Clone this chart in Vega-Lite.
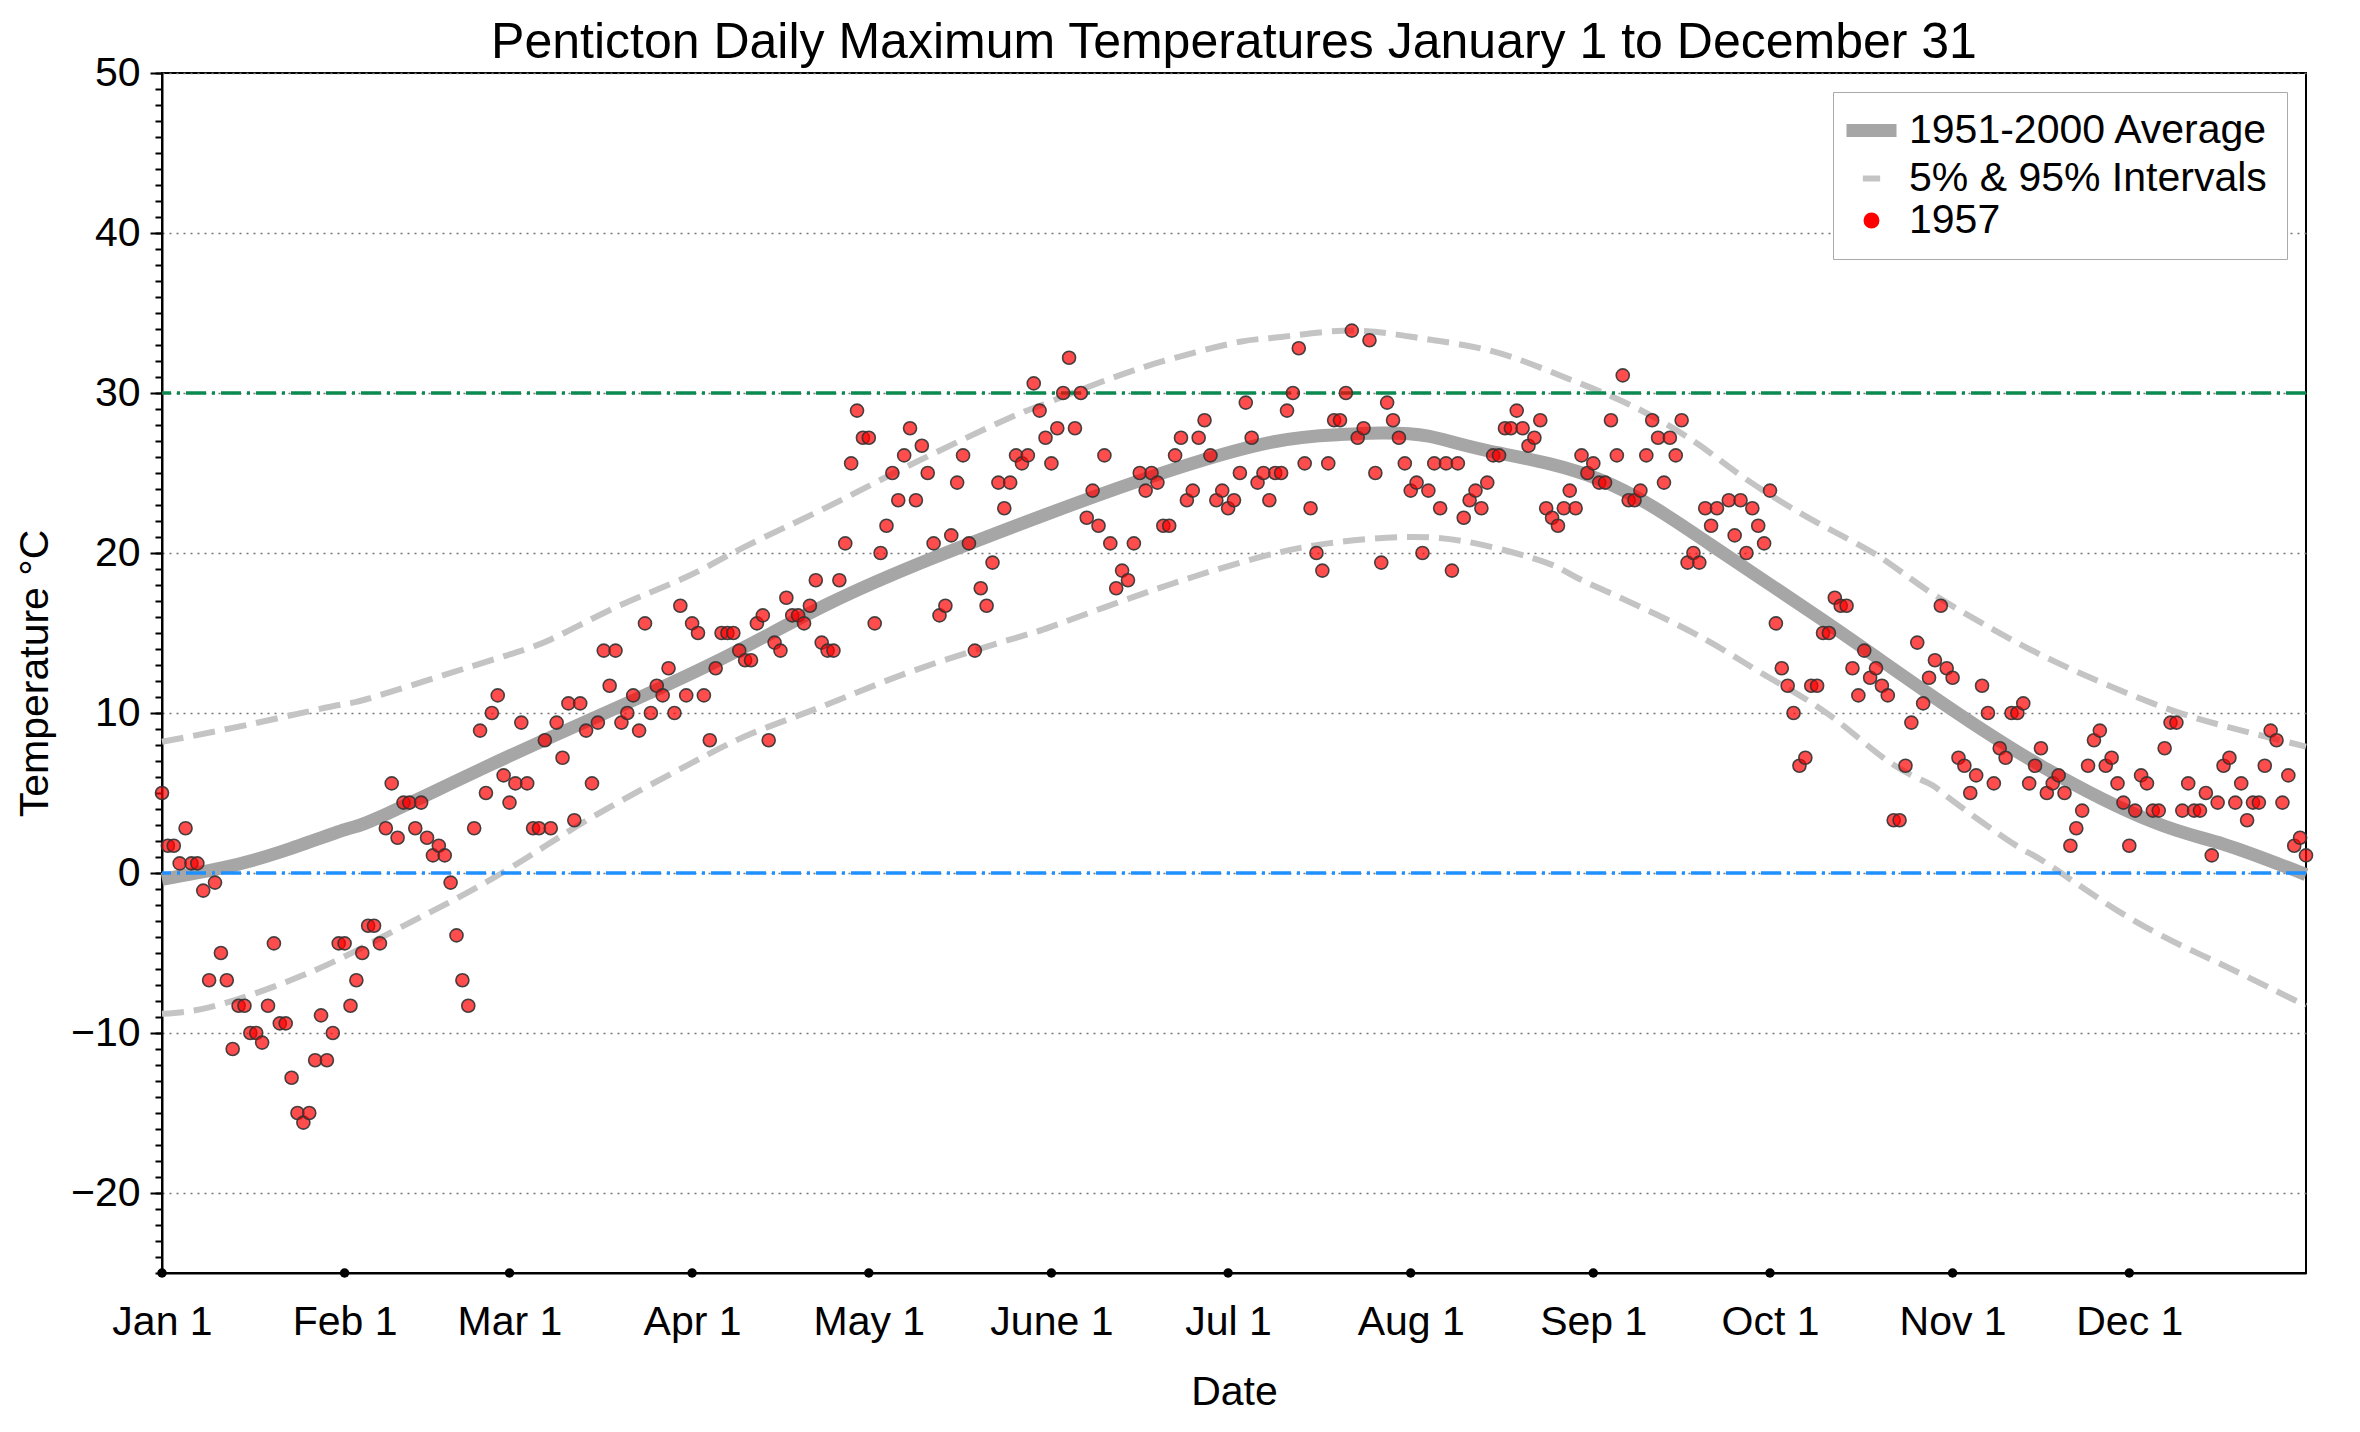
{
  "$schema": "https://vega.github.io/schema/vega-lite/v6.json",
  "width": 2144,
  "height": 1200,
  "autosize": {"type": "none"},
  "padding": {"left": 162, "top": 73, "right": 54, "bottom": 159},
  "background": "white",
  "title": {"text": "Penticton Daily Maximum Temperatures January 1 to December 31", "fontSize": 50, "fontWeight": "normal", "font": "Liberation Sans", "color": "black", "offset": -16, "anchor": "middle"},
  "config": {
    "view": {"stroke": "black", "strokeWidth": 2},
    "font": "Liberation Sans",
    "axis": {"labelFont": "Liberation Sans", "titleFont": "Liberation Sans", "labelColor": "black", "titleColor": "black", "labelFontSize": 41, "titleFontSize": 41, "titleFontWeight": "normal", "domainColor": "black", "domainWidth": 2, "tickColor": "black", "tickWidth": 2}
  },
  "resolve": {"scale": {"y": "shared", "x": "shared"}, "axis": {"y": "independent"}},
  "datasets": {
    "average": [
      {"day":0,"temp":-0.4},{"day":10,"temp":0.3},{"day":20,"temp":1.3},{"day":31,"temp":2.7},{"day":37,"temp":3.5},{"day":56,"temp":6.8},{"day":74,"temp":9.8},{"day":94,"temp":13.2},{"day":113,"temp":16.8},{"day":131,"temp":19.7},{"day":150,"temp":22.4},{"day":169,"temp":24.9},{"day":188,"temp":26.9},{"day":200,"temp":27.4},{"day":207,"temp":27.5},{"day":215,"temp":27.3},{"day":225,"temp":26.4},{"day":244,"temp":24.6},{"day":263,"temp":20.5},{"day":282,"temp":15.8},{"day":300,"temp":11.2},{"day":319,"temp":6.7},{"day":338,"temp":3.2},{"day":350,"temp":1.8},{"day":364,"temp":-0.1}
    ],
    "bands": [
      {"bound":"upper","day":0,"temp":8.2},{"bound":"upper","day":15,"temp":9.3},{"bound":"upper","day":30,"temp":10.5},{"bound":"upper","day":36,"temp":11.0},{"bound":"upper","day":55,"temp":13.2},{"bound":"upper","day":66,"temp":14.6},{"bound":"upper","day":77,"temp":16.6},{"bound":"upper","day":89,"temp":18.5},{"bound":"upper","day":99,"temp":20.4},{"bound":"upper","day":112,"temp":22.7},{"bound":"upper","day":127,"temp":25.5},{"bound":"upper","day":143,"temp":28.3},{"bound":"upper","day":149,"temp":29.2},{"bound":"upper","day":161,"temp":30.9},{"bound":"upper","day":172,"temp":32.2},{"bound":"upper","day":183,"temp":33.2},{"bound":"upper","day":190,"temp":33.5},{"bound":"upper","day":202,"temp":33.9},{"bound":"upper","day":214,"temp":33.4},{"bound":"upper","day":226,"temp":32.6},{"bound":"upper","day":238,"temp":31.0},{"bound":"upper","day":249,"temp":29.3},{"bound":"upper","day":260,"temp":27.0},{"bound":"upper","day":269,"temp":24.6},{"bound":"upper","day":281,"temp":21.9},{"bound":"upper","day":291,"temp":19.9},{"bound":"upper","day":300,"temp":17.6},{"bound":"upper","day":311,"temp":15.2},{"bound":"upper","day":322,"temp":13.1},{"bound":"upper","day":338,"temp":10.6},{"bound":"upper","day":350,"temp":9.2},{"bound":"upper","day":364,"temp":7.9},
      {"bound":"lower","day":0,"temp":-8.8},{"bound":"lower","day":8,"temp":-8.4},{"bound":"lower","day":19,"temp":-7.1},{"bound":"lower","day":30,"temp":-5.4},{"bound":"lower","day":41,"temp":-3.3},{"bound":"lower","day":52,"temp":-1.2},{"bound":"lower","day":63,"temp":1.2},{"bound":"lower","day":74,"temp":3.7},{"bound":"lower","day":89,"temp":6.7},{"bound":"lower","day":100,"temp":8.7},{"bound":"lower","day":112,"temp":10.4},{"bound":"lower","day":128,"temp":12.7},{"bound":"lower","day":145,"temp":14.7},{"bound":"lower","day":151,"temp":15.4},{"bound":"lower","day":163,"temp":17.0},{"bound":"lower","day":175,"temp":18.5},{"bound":"lower","day":187,"temp":19.8},{"bound":"lower","day":198,"temp":20.6},{"bound":"lower","day":211,"temp":21.0},{"bound":"lower","day":223,"temp":20.6},{"bound":"lower","day":235,"temp":19.4},{"bound":"lower","day":240,"temp":18.5},{"bound":"lower","day":250,"temp":16.8},{"bound":"lower","day":262,"temp":14.6},{"bound":"lower","day":272,"temp":12.4},{"bound":"lower","day":283,"temp":9.9},{"bound":"lower","day":293,"temp":7.0},{"bound":"lower","day":300,"temp":5.6},{"bound":"lower","day":303,"temp":4.8},{"bound":"lower","day":314,"temp":1.9},{"bound":"lower","day":320,"temp":0.6},{"bound":"lower","day":334,"temp":-2.8},{"bound":"lower","day":349,"temp":-5.6},{"bound":"lower","day":364,"temp":-8.3}
    ],
    "months": [
      {"day":0,"label":"Jan 1"},{"day":31,"label":"Feb 1"},{"day":59,"label":"Mar 1"},{"day":90,"label":"Apr 1"},{"day":120,"label":"May 1"},{"day":151,"label":"June 1"},{"day":181,"label":"Jul 1"},{"day":212,"label":"Aug 1"},{"day":243,"label":"Sep 1"},{"day":273,"label":"Oct 1"},{"day":304,"label":"Nov 1"},{"day":334,"label":"Dec 1"}
    ],
    "y1957": [
      {"day":0,"temp":5.0},{"day":1,"temp":1.7},{"day":2,"temp":1.7},{"day":3,"temp":0.6},{"day":4,"temp":2.8},{"day":5,"temp":0.6},{"day":6,"temp":0.6},{"day":7,"temp":-1.1},{"day":8,"temp":-6.7},{"day":9,"temp":-0.6},
      {"day":10,"temp":-5.0},{"day":11,"temp":-6.7},{"day":12,"temp":-11.0},{"day":13,"temp":-8.3},{"day":14,"temp":-8.3},{"day":15,"temp":-10.0},{"day":16,"temp":-10.0},{"day":17,"temp":-10.6},{"day":18,"temp":-8.3},{"day":19,"temp":-4.4},
      {"day":20,"temp":-9.4},{"day":21,"temp":-9.4},{"day":22,"temp":-12.8},{"day":23,"temp":-15.0},{"day":24,"temp":-15.6},{"day":25,"temp":-15.0},{"day":26,"temp":-11.7},{"day":27,"temp":-8.9},{"day":28,"temp":-11.7},{"day":29,"temp":-10.0},
      {"day":30,"temp":-4.4},{"day":31,"temp":-4.4},{"day":32,"temp":-8.3},{"day":33,"temp":-6.7},{"day":34,"temp":-5.0},{"day":35,"temp":-3.3},{"day":36,"temp":-3.3},{"day":37,"temp":-4.4},{"day":38,"temp":2.8},{"day":39,"temp":5.6},
      {"day":40,"temp":2.2},{"day":41,"temp":4.4},{"day":42,"temp":4.4},{"day":43,"temp":2.8},{"day":44,"temp":4.4},{"day":45,"temp":2.2},{"day":46,"temp":1.1},{"day":47,"temp":1.7},{"day":48,"temp":1.1},{"day":49,"temp":-0.6},
      {"day":50,"temp":-3.9},{"day":51,"temp":-6.7},{"day":52,"temp":-8.3},{"day":53,"temp":2.8},{"day":54,"temp":8.9},{"day":55,"temp":5.0},{"day":56,"temp":10.0},{"day":57,"temp":11.1},{"day":58,"temp":6.1},{"day":59,"temp":4.4},
      {"day":60,"temp":5.6},{"day":61,"temp":9.4},{"day":62,"temp":5.6},{"day":63,"temp":2.8},{"day":64,"temp":2.8},{"day":65,"temp":8.3},{"day":66,"temp":2.8},{"day":67,"temp":9.4},{"day":68,"temp":7.2},{"day":69,"temp":10.6},
      {"day":70,"temp":3.3},{"day":71,"temp":10.6},{"day":72,"temp":8.9},{"day":73,"temp":5.6},{"day":74,"temp":9.4},{"day":75,"temp":13.9},{"day":76,"temp":11.7},{"day":77,"temp":13.9},{"day":78,"temp":9.4},{"day":79,"temp":10.0},
      {"day":80,"temp":11.1},{"day":81,"temp":8.9},{"day":82,"temp":15.6},{"day":83,"temp":10.0},{"day":84,"temp":11.7},{"day":85,"temp":11.1},{"day":86,"temp":12.8},{"day":87,"temp":10.0},{"day":88,"temp":16.7},{"day":89,"temp":11.1},
      {"day":90,"temp":15.6},{"day":91,"temp":15.0},{"day":92,"temp":11.1},{"day":93,"temp":8.3},{"day":94,"temp":12.8},{"day":95,"temp":15.0},{"day":96,"temp":15.0},{"day":97,"temp":15.0},{"day":98,"temp":13.9},{"day":99,"temp":13.3},
      {"day":100,"temp":13.3},{"day":101,"temp":15.6},{"day":102,"temp":16.1},{"day":103,"temp":8.3},{"day":104,"temp":14.4},{"day":105,"temp":13.9},{"day":106,"temp":17.2},{"day":107,"temp":16.1},{"day":108,"temp":16.1},{"day":109,"temp":15.6},
      {"day":110,"temp":16.7},{"day":111,"temp":18.3},{"day":112,"temp":14.4},{"day":113,"temp":13.9},{"day":114,"temp":13.9},{"day":115,"temp":18.3},{"day":116,"temp":20.6},{"day":117,"temp":25.6},{"day":118,"temp":28.9},{"day":119,"temp":27.2},
      {"day":120,"temp":27.2},{"day":121,"temp":15.6},{"day":122,"temp":20.0},{"day":123,"temp":21.7},{"day":124,"temp":25.0},{"day":125,"temp":23.3},{"day":126,"temp":26.1},{"day":127,"temp":27.8},{"day":128,"temp":23.3},{"day":129,"temp":26.7},
      {"day":130,"temp":25.0},{"day":131,"temp":20.6},{"day":132,"temp":16.1},{"day":133,"temp":16.7},{"day":134,"temp":21.1},{"day":135,"temp":24.4},{"day":136,"temp":26.1},{"day":137,"temp":20.6},{"day":138,"temp":13.9},{"day":139,"temp":17.8},
      {"day":140,"temp":16.7},{"day":141,"temp":19.4},{"day":142,"temp":24.4},{"day":143,"temp":22.8},{"day":144,"temp":24.4},{"day":145,"temp":26.1},{"day":146,"temp":25.6},{"day":147,"temp":26.1},{"day":148,"temp":30.6},{"day":149,"temp":28.9},
      {"day":150,"temp":27.2},{"day":151,"temp":25.6},{"day":152,"temp":27.8},{"day":153,"temp":30.0},{"day":154,"temp":32.2},{"day":155,"temp":27.8},{"day":156,"temp":30.0},{"day":157,"temp":22.2},{"day":158,"temp":23.9},{"day":159,"temp":21.7},
      {"day":160,"temp":26.1},{"day":161,"temp":20.6},{"day":162,"temp":17.8},{"day":163,"temp":18.9},{"day":164,"temp":18.3},{"day":165,"temp":20.6},{"day":166,"temp":25.0},{"day":167,"temp":23.9},{"day":168,"temp":25.0},{"day":169,"temp":24.4},
      {"day":170,"temp":21.7},{"day":171,"temp":21.7},{"day":172,"temp":26.1},{"day":173,"temp":27.2},{"day":174,"temp":23.3},{"day":175,"temp":23.9},{"day":176,"temp":27.2},{"day":177,"temp":28.3},{"day":178,"temp":26.1},{"day":179,"temp":23.3},
      {"day":180,"temp":23.9},{"day":181,"temp":22.8},{"day":182,"temp":23.3},{"day":183,"temp":25.0},{"day":184,"temp":29.4},{"day":185,"temp":27.2},{"day":186,"temp":24.4},{"day":187,"temp":25.0},{"day":188,"temp":23.3},{"day":189,"temp":25.0},
      {"day":190,"temp":25.0},{"day":191,"temp":28.9},{"day":192,"temp":30.0},{"day":193,"temp":32.8},{"day":194,"temp":25.6},{"day":195,"temp":22.8},{"day":196,"temp":20.0},{"day":197,"temp":18.9},{"day":198,"temp":25.6},{"day":199,"temp":28.3},
      {"day":200,"temp":28.3},{"day":201,"temp":30.0},{"day":202,"temp":33.9},{"day":203,"temp":27.2},{"day":204,"temp":27.8},{"day":205,"temp":33.3},{"day":206,"temp":25.0},{"day":207,"temp":19.4},{"day":208,"temp":29.4},{"day":209,"temp":28.3},
      {"day":210,"temp":27.2},{"day":211,"temp":25.6},{"day":212,"temp":23.9},{"day":213,"temp":24.4},{"day":214,"temp":20.0},{"day":215,"temp":23.9},{"day":216,"temp":25.6},{"day":217,"temp":22.8},{"day":218,"temp":25.6},{"day":219,"temp":18.9},
      {"day":220,"temp":25.6},{"day":221,"temp":22.2},{"day":222,"temp":23.3},{"day":223,"temp":23.9},{"day":224,"temp":22.8},{"day":225,"temp":24.4},{"day":226,"temp":26.1},{"day":227,"temp":26.1},{"day":228,"temp":27.8},{"day":229,"temp":27.8},
      {"day":230,"temp":28.9},{"day":231,"temp":27.8},{"day":232,"temp":26.7},{"day":233,"temp":27.2},{"day":234,"temp":28.3},{"day":235,"temp":22.8},{"day":236,"temp":22.2},{"day":237,"temp":21.7},{"day":238,"temp":22.8},{"day":239,"temp":23.9},
      {"day":240,"temp":22.8},{"day":241,"temp":26.1},{"day":242,"temp":25.0},{"day":243,"temp":25.6},{"day":244,"temp":24.4},{"day":245,"temp":24.4},{"day":246,"temp":28.3},{"day":247,"temp":26.1},{"day":248,"temp":31.1},{"day":249,"temp":23.3},
      {"day":250,"temp":23.3},{"day":251,"temp":23.9},{"day":252,"temp":26.1},{"day":253,"temp":28.3},{"day":254,"temp":27.2},{"day":255,"temp":24.4},{"day":256,"temp":27.2},{"day":257,"temp":26.1},{"day":258,"temp":28.3},{"day":259,"temp":19.4},
      {"day":260,"temp":20.0},{"day":261,"temp":19.4},{"day":262,"temp":22.8},{"day":263,"temp":21.7},{"day":264,"temp":22.8},{"day":266,"temp":23.3},{"day":267,"temp":21.1},{"day":268,"temp":23.3},{"day":269,"temp":20.0},
      {"day":270,"temp":22.8},{"day":271,"temp":21.7},{"day":272,"temp":20.6},{"day":273,"temp":23.9},{"day":274,"temp":15.6},{"day":275,"temp":12.8},{"day":276,"temp":11.7},{"day":277,"temp":10.0},{"day":278,"temp":6.7},{"day":279,"temp":7.2},
      {"day":280,"temp":11.7},{"day":281,"temp":11.7},{"day":282,"temp":15.0},{"day":283,"temp":15.0},{"day":284,"temp":17.2},{"day":285,"temp":16.7},{"day":286,"temp":16.7},{"day":287,"temp":12.8},{"day":288,"temp":11.1},{"day":289,"temp":13.9},
      {"day":290,"temp":12.2},{"day":291,"temp":12.8},{"day":292,"temp":11.7},{"day":293,"temp":11.1},{"day":294,"temp":3.3},{"day":295,"temp":3.3},{"day":296,"temp":6.7},{"day":297,"temp":9.4},{"day":298,"temp":14.4},{"day":299,"temp":10.6},
      {"day":300,"temp":12.2},{"day":301,"temp":13.3},{"day":302,"temp":16.7},{"day":303,"temp":12.8},{"day":304,"temp":12.2},{"day":305,"temp":7.2},{"day":306,"temp":6.7},{"day":307,"temp":5.0},{"day":308,"temp":6.1},{"day":309,"temp":11.7},
      {"day":310,"temp":10.0},{"day":311,"temp":5.6},{"day":312,"temp":7.8},{"day":313,"temp":7.2},{"day":314,"temp":10.0},{"day":315,"temp":10.0},{"day":316,"temp":10.6},{"day":317,"temp":5.6},{"day":318,"temp":6.7},{"day":319,"temp":7.8},
      {"day":320,"temp":5.0},{"day":321,"temp":5.6},{"day":322,"temp":6.1},{"day":323,"temp":5.0},{"day":324,"temp":1.7},{"day":325,"temp":2.8},{"day":326,"temp":3.9},{"day":327,"temp":6.7},{"day":328,"temp":8.3},{"day":329,"temp":8.9},
      {"day":330,"temp":6.7},{"day":331,"temp":7.2},{"day":332,"temp":5.6},{"day":333,"temp":4.4},{"day":334,"temp":1.7},{"day":335,"temp":3.9},{"day":336,"temp":6.1},{"day":337,"temp":5.6},{"day":338,"temp":3.9},{"day":339,"temp":3.9},
      {"day":340,"temp":7.8},{"day":341,"temp":9.4},{"day":342,"temp":9.4},{"day":343,"temp":3.9},{"day":344,"temp":5.6},{"day":345,"temp":3.9},{"day":346,"temp":3.9},{"day":347,"temp":5.0},{"day":348,"temp":1.1},{"day":349,"temp":4.4},
      {"day":350,"temp":6.7},{"day":351,"temp":7.2},{"day":352,"temp":4.4},{"day":353,"temp":5.6},{"day":354,"temp":3.3},{"day":355,"temp":4.4},{"day":356,"temp":4.4},{"day":357,"temp":6.7},{"day":358,"temp":8.9},{"day":359,"temp":8.3},
      {"day":360,"temp":4.4},{"day":361,"temp":6.1},{"day":362,"temp":1.7},{"day":363,"temp":2.2},{"day":364,"temp":1.1}
    ]
  },
  "layer": [
    {
      "data": {"name": "average"},
      "mark": {"type": "line", "strokeWidth": 13, "interpolate": "natural", "strokeCap": "butt"},
      "encoding": {
        "x": {"field": "day", "type": "quantitative",
          "scale": {"domain": [0, 364], "nice": false, "zero": false},
          "axis": {"title": "Date", "values": [0,31,59,90,120,151,181,212,243,273,304,334],
            "labelExpr": "['Jan 1','Feb 1','Mar 1','Apr 1','May 1','June 1','Jul 1','Aug 1','Sep 1','Oct 1','Nov 1','Dec 1'][indexof([0,31,59,90,120,151,181,212,243,273,304,334], datum.value)]",
            "ticks": false, "grid": false, "labelPadding": 29, "titlePadding": 30, "labelFlush": false, "labelOverlap": false}},
        "y": {"field": "temp", "type": "quantitative",
          "scale": {"domain": [-25, 50], "nice": false, "zero": false},
          "axis": {"title": "Temperature °C", "orient": "left",
            "values": [-20,-10,0,10,20,30,40,50],
            "tickSize": 12, "grid": true,
            "gridDash": [2, 5], "gridColor": "#777777", "gridWidth": 1.5,
            "labelPadding": 10, "titlePadding": 14, "labelOverlap": false, "labelFlush": false}},
        "color": {"datum": "1951-2000 Average", "type": "nominal",
          "scale": {"domain": ["1951-2000 Average", "5% & 95% Intervals", "1957"], "range": ["#a6a6a6", "#c4c4c4", "#ff0000"]},
          "legend": {"title": null, "orient": "top-right", "offset": 19, "padding": 18, "rowPadding": 0,
            "labelFontSize": 41, "labelFont": "Liberation Sans", "labelColor": "black", "labelLimit": 800, "labelOffset": 17,
            "symbolSize": 2500, "strokeColor": "#aaaaaa", "fillColor": "white",
            "encode": {"symbols": {"update": {
              "shape": {"signal": "datum.index === 2 ? 'circle' : 'stroke'"},
              "size": {"signal": "datum.index === 0 ? 2500 : datum.index === 2 ? 200 : 300"},
              "strokeWidth": {"signal": "datum.index === 0 ? 13 : datum.index === 2 ? 1.8 : 6"},
              "stroke": {"signal": "datum.index === 0 ? '#a6a6a6' : datum.index === 2 ? '#333333' : '#c4c4c4'"},
              "fill": {"signal": "datum.index === 2 ? '#f04d4d' : 'transparent'"},
              "opacity": {"value": 1}, "fillOpacity": {"value": 1}, "strokeOpacity": {"value": 1}
            }}}}}
      }
    },
    {
      "data": {"name": "bands"},
      "mark": {"type": "line", "strokeWidth": 6, "strokeDash": [22, 10], "interpolate": "natural"},
      "encoding": {
        "x": {"field": "day", "type": "quantitative"},
        "y": {"field": "temp", "type": "quantitative",
          "axis": {"title": null, "orient": "left", "values": [-25,-24,-23,-22,-21,-20,-19,-18,-17,-16,-15,-14,-13,-12,-11,-10,-9,-8,-7,-6,-5,-4,-3,-2,-1,0,1,2,3,4,5,6,7,8,9,10,11,12,13,14,15,16,17,18,19,20,21,22,23,24,25,26,27,28,29,30,31,32,33,34,35,36,37,38,39,40,41,42,43,44,45,46,47,48,49,50],
            "labels": false, "tickSize": 7, "domain": false, "grid": false}},
        "detail": {"field": "bound"},
        "color": {"datum": "5% & 95% Intervals", "type": "nominal"}
      }
    },
    {
      "data": {"values": [{"temp": 30}]},
      "mark": {"type": "rule", "color": "#0a8a50", "strokeWidth": 3.5, "strokeDash": [20, 6, 3, 6]},
      "encoding": {"y": {"field": "temp", "type": "quantitative", "axis": null}}
    },
    {
      "data": {"values": [{"temp": 0}]},
      "mark": {"type": "rule", "color": "#1e90ff", "strokeWidth": 3.5, "strokeDash": [20, 6, 3, 6]},
      "encoding": {"y": {"field": "temp", "type": "quantitative", "axis": null}}
    },
    {
      "data": {"name": "y1957"},
      "mark": {"type": "point", "filled": true, "size": 170, "fillOpacity": 0.7, "stroke": "#333333", "strokeWidth": 1.6, "strokeOpacity": 0.9},
      "encoding": {
        "x": {"field": "day", "type": "quantitative"},
        "y": {"field": "temp", "type": "quantitative", "axis": null},
        "color": {"datum": "1957", "type": "nominal"}
      }
    },
    {
      "data": {"name": "months"},
      "mark": {"type": "point", "filled": true, "size": 90, "color": "black", "opacity": 1, "clip": false},
      "encoding": {
        "x": {"field": "day", "type": "quantitative"},
        "y": {"datum": -25, "type": "quantitative", "axis": null}
      }
    }
  ]
}
